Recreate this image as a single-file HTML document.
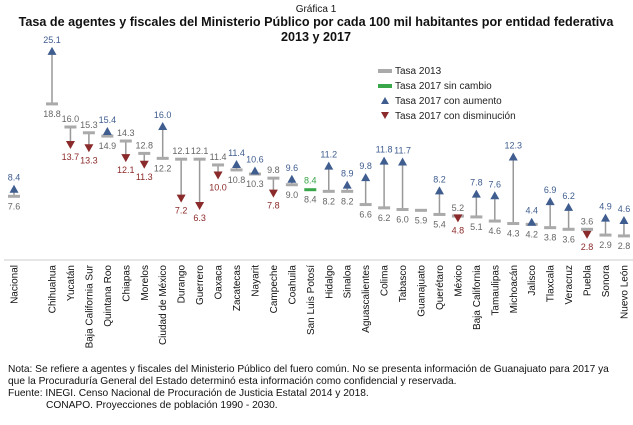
<!DOCTYPE html><html><head><meta charset="utf-8"><style>
body{margin:0;background:#fff;width:633px;height:420px;overflow:hidden;font-family:"Liberation Sans",Arial,sans-serif}
</style></head><body>
<svg id="s" width="633" height="420" xmlns="http://www.w3.org/2000/svg" font-family="Liberation Sans, Arial, sans-serif">
<text x="316" y="12" font-size="10" text-anchor="middle" fill="#111">Gráfica 1</text>
<text x="316" y="26" font-size="12.6" font-weight="bold" text-anchor="middle" fill="#111">Tasa de agentes y fiscales del Ministerio Público por cada 100 mil habitantes por entidad federativa</text>
<text x="316" y="41" font-size="12.6" font-weight="bold" text-anchor="middle" fill="#111">2013 y 2017</text>
<line x1="4" y1="260" x2="633" y2="260" stroke="#ddd" stroke-width="1.5"/>
<g font-size="10" fill="#222">
<rect x="378" y="69" width="14" height="4" fill="#aaa"/><text x="395" y="74">Tasa 2013</text>
<rect x="378" y="84" width="14" height="4" fill="#3aa64a"/><text x="395" y="89">Tasa 2017 sin cambio</text>
<polygon points="381,104 385,97 389,104" fill="#3f5d8f"/><text x="395" y="104">Tasa 2017 con aumento</text>
<polygon points="381,112 389,112 385,119" fill="#8b2a2a"/><text x="395" y="119">Tasa 2017 con disminución</text>
</g>
<g id="g"></g>
<g font-size="10.2" fill="#111">
<text x="8" y="372">Nota: Se refiere a agentes y fiscales del Ministerio Público del fuero común. No se presenta información de Guanajuato para 2017 ya</text>
<text x="8" y="384">que la Procuraduría General del Estado determinó esta información como confidencial y reservada.</text>
<text x="8" y="396">Fuente: INEGI. Censo Nacional de Procuración de Justicia Estatal 2014 y 2018.</text>
<text x="46" y="408">CONAPO. Proyecciones de población 1990 - 2030.</text>
</g>
</svg>
<script>
var d=[["Nacional",7.6,8.4],["Chihuahua",18.8,25.1],["Yucatán",16.0,13.7],["Baja California Sur",15.3,13.3],["Quintana Roo",14.9,15.4],["Chiapas",14.3,12.1],["Morelos",12.8,11.3],["Ciudad de México",12.2,16.0],["Durango",12.1,7.2],["Guerrero",12.1,6.3],["Oaxaca",11.4,10.0],["Zacatecas",10.8,11.4],["Nayarit",10.3,10.6],["Campeche",9.8,7.8],["Coahuila",9.0,9.6],["San Luis Potosí",8.4,8.4],["Hidalgo",8.2,11.2],["Sinaloa",8.2,8.9],["Aguascalientes",6.6,9.8],["Colima",6.2,11.8],["Tabasco",6.0,11.7],["Guanajuato",5.9,null],["Querétaro",5.4,8.2],["México",5.2,4.8],["Baja California",5.1,7.8],["Tamaulipas",4.6,7.6],["Michoacán",4.3,12.3],["Jalisco",4.2,4.4],["Tlaxcala",3.8,6.9],["Veracruz",3.6,6.2],["Puebla",3.6,2.8],["Sonora",2.9,4.9],["Nuevo León",2.8,4.6]];
var h="";function Y(v){return 259-8.25*v}
d.forEach(function(r,i){var x=i==0?14:52+(i-1)*18.45;var a=Y(r[1]);var f=r[1].toFixed(1);
var t=function(x,y,s,c){return '<text x="'+x+'" y="'+y+'" font-size="9" text-anchor="middle" fill="'+c+'">'+s+'</text>'};
h+='<text transform="translate('+(x+3.5)+',265) rotate(-90)" font-size="10" text-anchor="end" fill="#111">'+r[0]+'</text>';
if(r[2]===null){h+='<rect x="'+(x-6)+'" y="'+(a-1.5)+'" width="12" height="3" fill="#aaa"/>'+t(x,a+13,f,"#666");return}
var b=Y(r[2]);var g=r[2].toFixed(1);
if(r[2]==r[1]){h+='<rect x="'+(x-6)+'" y="'+(a-1.5)+'" width="12" height="3" fill="#3aa64a"/>'+t(x,a-6,g,"#3aa64a")+t(x,a+13,f,"#666");return}
h+='<line x1="'+x+'" y1="'+a+'" x2="'+x+'" y2="'+b+'" stroke="#999" stroke-width="1.5"/><rect x="'+(x-6)+'" y="'+(a-1.5)+'" width="12" height="3" fill="#aaa"/>';
if(r[2]>r[1]){h+='<polygon points="'+(x-4.5)+','+(b+3)+' '+x+','+(b-5)+' '+(x+4.5)+','+(b+3)+'" fill="#3f5d8f"/>'+t(x,b-9,g,"#3f5d8f")+t(x,a+13,f,"#666");}
else{h+='<polygon points="'+(x-4.5)+','+(b-5)+' '+(x+4.5)+','+(b-5)+' '+x+','+(b+3)+'" fill="#8b2a2a"/>'+t(x,b+14,g,"#8b2a2a")+t(x,a-5,f,"#666");}
});
document.getElementById("g").innerHTML=h;
</script>
</body></html>
